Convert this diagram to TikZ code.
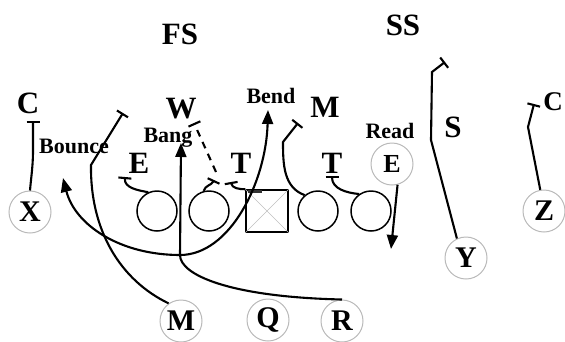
\documentclass[tikz,border=0pt]{standalone}
\usepackage{fontspec}
\setmainfont{Liberation Serif}
\usetikzlibrary{arrows.meta}
\begin{document}
\begin{tikzpicture}[x=1pt,y=-1pt,
  lbl/.style={font=\bfseries\fontsize{31}{31}\selectfont, inner sep=0pt, anchor=base},
  cue/.style={font=\bfseries\fontsize{22}{22}\selectfont, inner sep=0pt, anchor=base},
  lineman/.style={circle, draw=black, line width=1.5pt, minimum size=40pt, inner sep=0pt},
  center/.style={rectangle, draw=black, line width=1.5pt, minimum size=42pt, inner sep=0pt},
  back/.style={circle, draw=gray!55, line width=1pt, minimum size=42pt, inner sep=0pt,
    font=\bfseries\fontsize{30}{30}\selectfont},
  route/.style={line width=2.1pt, black},
  run/.style={route, -{Triangle[length=14pt,width=11pt]}},
  block/.style={route, -{Bar[width=13pt]}},
]
\useasboundingbox (0,0) rectangle (565,341);

% offensive line
\node[lineman] (o1) at (157,211) {};
\node[lineman] (o2) at (209,211) {};
\node[center]  (sq) at (267,211) {};
\node[lineman] (o3) at (318,211) {};
\node[lineman] (o4) at (371,211) {};
\draw[gray!50, line width=0.6pt] (sq.north west) -- (sq.south east)
  (sq.north east) -- (sq.south west);
\draw[black!80, line width=3pt] (248,191) -- (262,191);

% backs and receivers
\node[back] (X)  at (30,212)  {X};
\node[back] (Z)  at (544,211) {Z};
\node[back] (Y)  at (466,258) {Y};
\node[back] (Mb) at (181,321) {M};
\node[back] (Q)  at (268,320) {Q};
\node[back] (R)  at (342,321) {R};
\node[back, font=\bfseries\fontsize{26}{26}\selectfont] (Er) at (392,164) {E};

% defenders
\node[lbl] (FS) at (180,44)  {FS};
\node[lbl] (SS) at (403,35)  {SS};
\node[lbl] (Cl) at (28,113)  {C};
\node[lbl] (W)  at (181,118) {W};
\node[lbl] (Mt) at (325,117) {M};
\node[lbl] (Tl) at (241,173) {T};
\node[lbl] (Tr) at (332,173) {T};
\node[lbl] (El) at (139,173) {E};
\node[lbl] (S)  at (453,137) {S};
\node[lbl, font=\bfseries\fontsize{27}{27}\selectfont] (Cr) at (553,110) {C};

% run reads
\node[cue] (bounce) at (74,153)  {Bounce};
\node[cue] (bang)   at (168,142) {Bang};
\node[cue] (bend)   at (271,103) {Bend};
\node[cue] (read)   at (390,138) {Read};

% route points
\coordinate (J)       at (180,255);
\coordinate (bangT)   at (181,143);
\coordinate (bounceT) at (63,178);
\coordinate (bendT)   at (268,110);
\coordinate (readT)   at (391,249);

% receivers
\draw[block] (X.north) to[out=85,in=-90] (33,150) -- (33,121);
\draw[block] (Z.100) -- (528,127) -- (534,104);
\draw[block] (Y.115) -- (431,140) -- (432,72) -- (445,62);
\draw[run] (Er.-75) -- (readT);

% line blocks
\draw[block] (o1.115) to[out=170,in=-95] (125,177);
\draw[block] (o2.105) to[out=75,in=-115] (214,180);
\draw[block, dashed, dash pattern=on 7pt off 6pt] (216,172) -- (194,123);
\draw[block] (sq.north west) to[out=180,in=-80] (231,182);
\draw[block] (o3.130) to[out=160,in=-90] (283,142) -- (298,123);
\draw[block] (o4.125) to[out=175,in=-90] (332,176);

% backs
\draw[block] (Mb.125) .. controls (120,280) and (90,230) .. (91,165) -- (123,113);
\draw[run] (R.north) .. controls (230,297) and (180,275) .. (J) -- (bangT);
\draw[run] (J) .. controls (120,255) and (75,225) .. (bounceT);
\draw[run] (J) .. controls (230,255) and (266,182) .. (bendT);
\end{tikzpicture}
\end{document}
